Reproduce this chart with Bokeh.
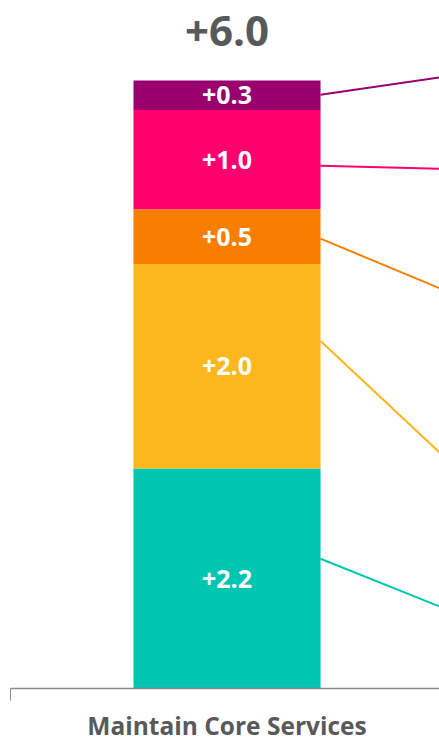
import numpy as np
from bokeh.plotting import figure
from bokeh.models import Range1d, FixedTicker, ColumnDataSource
from bokeh.core.properties import value
from bokeh.embed import file_html
from bokeh.resources import INLINE

# ---- data ----
category = "Maintain Core Services"
segment_values = [2.17, 2.02, 0.54, 0.98, 0.29]          # bottom -> top
segment_colors = ["#00C5B1", "#FDB71E", "#F87E00", "#FF006E", "#99006E"]
connector_start = [1.28, 3.43, 4.44, 5.16, 5.86]          # where each leader line leaves the bar
connector_end = [0.81, 2.33, 3.95, 5.13, 6.03]            # where it leaves the visible area

# ---- layout constants ----
FONT = "Open Sans"
GREY = "#595959"
bar_width = 0.432
px_per_unit = 101.33
frame_w, frame_h = 429, 688
slot_px = 433.0

vals = np.array(segment_values)
tops = np.cumsum(vals)
bottoms = tops - vals
mids = (tops + bottoms) / 2
total = tops[-1]

x_end = -0.5 + frame_w / slot_px

p = figure(frame_width=frame_w, frame_height=frame_h,
           min_border_left=10, min_border_right=0, min_border_top=0, min_border_bottom=53,
           x_range=Range1d(-0.5, x_end), y_range=Range1d(0, frame_h / px_per_unit),
           output_backend="svg", toolbar_location=None, y_axis_location=None)
p.grid.visible = False
p.outline_line_color = None
p.background_fill_color = "white"
p.border_fill_color = "white"

src = ColumnDataSource(dict(
    x=[0] * len(vals), bottom=bottoms, top=tops, mid=mids, color=segment_colors,
    label=["+{:.1f}".format(v) for v in vals],
    x0=[bar_width / 2] * len(vals), y0=connector_start,
    x1=[x_end] * len(vals), y1=connector_end,
))

p.vbar(x="x", bottom="bottom", top="top", width=bar_width, fill_color="color",
       line_color=None, source=src)
p.segment(x0="x0", y0="y0", x1="x1", y1="y1", line_color="color", line_width=2, source=src)

p.text(x="x", y="mid", text="label", source=src, text_color="white",
       text_font=value(FONT), text_font_style="bold", text_font_size="25px",
       text_align="center", text_baseline="middle")

p.text(x=[0], y=[total], text=["+{:.1f}".format(total)], text_color=GREY,
       text_font=value(FONT), text_font_style="bold", text_font_size="42px",
       text_align="center", text_baseline="middle", y_offset=-50)

ax = p.xaxis[0]
ax.ticker = FixedTicker(ticks=[0], minor_ticks=[-0.5])
ax.major_label_overrides = {0: category}
ax.major_tick_out = 0
ax.major_tick_in = 0
ax.minor_tick_out = 12
ax.minor_tick_in = 0
ax.minor_tick_line_color = "#8C8C8C"
ax.axis_line_color = "#8C8C8C"
ax.axis_line_width = 1.5
ax.major_label_standoff = 8
ax.major_label_text_font = FONT
ax.major_label_text_font_style = "bold"
ax.major_label_text_font_size = "24.5px"
ax.major_label_text_color = GREY

open("out.html", "w").write(file_html(p, INLINE))
